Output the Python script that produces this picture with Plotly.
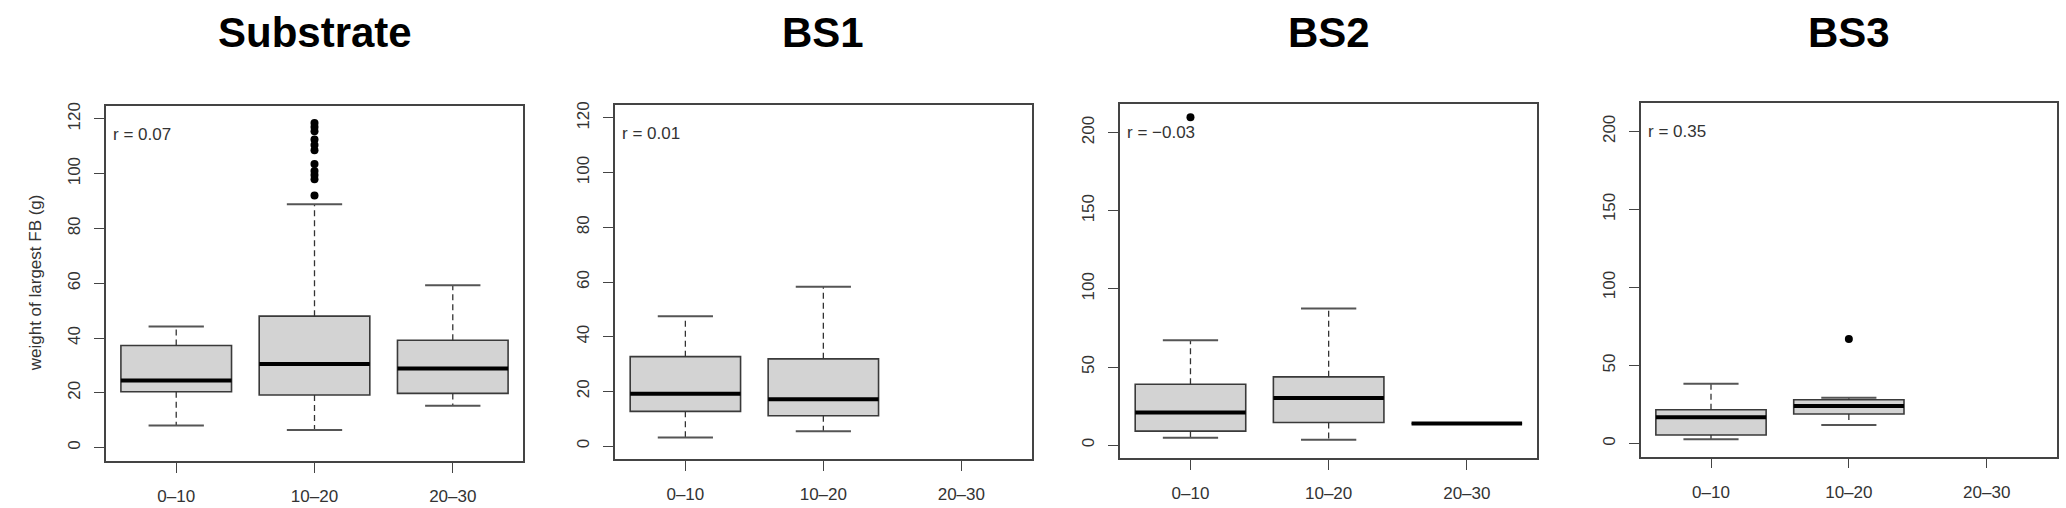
import plotly.graph_objects as go

# ---------------- data ----------------
categories = ["0–10", "10–20", "20–30"]
panel_titles = ["Substrate", "BS1", "BS2", "BS3"]
r_labels = ["r = 0.07", "r = 0.01", "r = −0.03", "r = 0.35"]

# Substrate
sub_lower = [8.1, 6.4, 15.3]
sub_q1 = [20.4, 19.2, 19.8]
sub_median = [24.5, 30.5, 28.9]
sub_q3 = [37.3, 48.0, 39.2]
sub_upper = [44.2, 88.8, 59.3]
sub_outliers = [[], [92.0, 98.0, 99.5, 101.0, 103.5, 108.5, 110.5, 112.5, 115.5, 117.0, 118.5], []]

# BS1
bs1_lower = [3.1, 5.4]
bs1_q1 = [12.7, 11.1]
bs1_median = [19.1, 17.1]
bs1_q3 = [32.7, 31.9]
bs1_upper = [47.5, 58.3]
bs1_outliers = [[], []]

# BS2
bs2_lower = [4.7, 3.4, 13.9]
bs2_q1 = [9.0, 14.5, 13.9]
bs2_median = [20.9, 30.1, 13.9]
bs2_q3 = [39.0, 43.7, 13.9]
bs2_upper = [67.2, 87.4, 13.9]
bs2_outliers = [[209.8], [], []]

# BS3
bs3_lower = [2.8, 11.9]
bs3_q1 = [5.5, 19.0]
bs3_median = [16.8, 24.1]
bs3_q3 = [21.7, 28.1]
bs3_upper = [38.4, 29.4]
bs3_outliers = [[], [67.0]]

y_limits = [(0, 120), (0, 120), (0, 210), (0, 210)]
y_ticks = [list(range(0, 121, 20)), list(range(0, 121, 20)),
           list(range(0, 201, 50)), list(range(0, 201, 50))]
y_title = "weight of largest FB (g)"

panels = [
    (sub_lower, sub_q1, sub_median, sub_q3, sub_upper, sub_outliers),
    (bs1_lower, bs1_q1, bs1_median, bs1_q3, bs1_upper, bs1_outliers),
    (bs2_lower, bs2_q1, bs2_median, bs2_q3, bs2_upper, bs2_outliers),
    (bs3_lower, bs3_q1, bs3_median, bs3_q3, bs3_upper, bs3_outliers),
]

# ---------------- layout geometry (pixels) ----------------
W, H = 2066, 508
# left, right, top, bottom of each plot box (pixels)
boxes_px = [
    (105.7, 523.3, 105.7, 460.8),
    (615.0, 1031.7, 104.8, 459.2),
    (1120.0, 1537.3, 103.8, 458.3),
    (1640.7, 2057.0, 102.7, 456.7),
]


def px_x(v):
    return v / W


def px_y(v):
    return 1 - v / H


FONT = "Liberation Sans, Arial, Helvetica, sans-serif"
TXT = "#333333"
LINE = "#444444"
BOX_W = 0.8
CAP_W = 0.4

fig = go.Figure()

for p, (lower, q1, med, q3, upper, outl) in enumerate(panels):
    xa = "x" if p == 0 else f"x{p+1}"
    ya = "y" if p == 0 else f"y{p+1}"
    n = len(med)
    pos = list(range(1, n + 1))

    # dashed whiskers
    wx, wy = [], []
    for i in range(n):
        c = pos[i]
        wx += [c, c, None, c, c, None]
        wy += [q3[i], upper[i], None, q1[i], lower[i], None]
    fig.add_trace(go.Scatter(x=wx, y=wy, mode="lines", xaxis=xa, yaxis=ya,
                             line=dict(color="#333333", width=1.3, dash="6px,4px"),
                             hoverinfo="skip", showlegend=False))
    # whisker caps (staples)
    cx, cy = [], []
    for i in range(n):
        c = pos[i]
        cx += [c - CAP_W / 2, c + CAP_W / 2, None, c - CAP_W / 2, c + CAP_W / 2, None]
        cy += [upper[i], upper[i], None, lower[i], lower[i], None]
    fig.add_trace(go.Scatter(x=cx, y=cy, mode="lines", xaxis=xa, yaxis=ya,
                             line=dict(color="#555555", width=2),
                             hoverinfo="skip", showlegend=False))
    # boxes
    for i in range(n):
        fig.add_trace(go.Box(x=[pos[i]], q1=[q1[i]], median=[med[i]], q3=[q3[i]],
                             lowerfence=[q1[i]], upperfence=[q3[i]],
                             width=BOX_W, whiskerwidth=0, boxpoints=False,
                             fillcolor="#d3d3d3", line=dict(color="#3a3a3a", width=1.6),
                             xaxis=xa, yaxis=ya, showlegend=False, hoverinfo="skip"))
    # thick medians
    mx, my = [], []
    for i in range(n):
        c = pos[i]
        mx += [c - BOX_W / 2, c + BOX_W / 2, None]
        my += [med[i], med[i], None]
    fig.add_trace(go.Scatter(x=mx, y=my, mode="lines", xaxis=xa, yaxis=ya,
                             line=dict(color="black", width=4),
                             hoverinfo="skip", showlegend=False))
    # outliers
    ox, oy = [], []
    for i in range(n):
        for v in outl[i]:
            ox.append(pos[i])
            oy.append(v)
    if ox:
        fig.add_trace(go.Scatter(x=ox, y=oy, mode="markers", xaxis=xa, yaxis=ya,
                                 marker=dict(color="black", size=8),
                                 hoverinfo="skip", showlegend=False))

layout = dict(
    width=W, height=H, margin=dict(l=0, r=0, t=0, b=0, autoexpand=False),
    paper_bgcolor="white", plot_bgcolor="white",
    font=dict(family=FONT, color=TXT, size=17),
    showlegend=False, boxmode="overlay",
)

annotations = []
for p, (l, r, t, b) in enumerate(boxes_px):
    suffix = "" if p == 0 else str(p + 1)
    lo, hi = y_limits[p]
    ext = 0.04 * (hi - lo)
    layout["xaxis" + suffix] = dict(
        domain=[px_x(l), px_x(r)], anchor="y" + suffix, automargin=False,
        range=[0.49, 3.51], tickvals=[1, 2, 3], ticktext=categories,
        showline=True, mirror=True, linecolor=LINE, linewidth=1.5,
        ticks="outside", ticklen=10, tickwidth=1.3, tickcolor=LINE,
        showgrid=False, zeroline=False, fixedrange=True,
        tickfont=dict(size=17, color=TXT, family=FONT), ticklabelstandoff=9,
    )
    layout["yaxis" + suffix] = dict(
        domain=[px_y(b), px_y(t)], anchor="x" + suffix, automargin=False,
        range=[lo - ext, hi + ext], tickvals=y_ticks[p],
        showline=True, mirror=True, linecolor=LINE, linewidth=1.5,
        ticks="outside", ticklen=10, tickwidth=1.3, tickcolor=LINE,
        showgrid=False, zeroline=False, fixedrange=True, tickangle=-90,
        tickfont=dict(size=17, color=TXT, family=FONT), ticklabelstandoff=7,
    )
    annotations.append(dict(
        text=f"<b>{panel_titles[p]}</b>", xref="paper", yref="paper",
        x=px_x((l + r) / 2), y=px_y(32), xanchor="center", yanchor="middle",
        showarrow=False, font=dict(family=FONT, size=42, color="black")))
    annotations.append(dict(
        text=r_labels[p], xref="paper", yref="paper",
        x=px_x(l + 5), y=px_y(t + 29), xanchor="left", yanchor="middle",
        showarrow=False, font=dict(family=FONT, size=17, color=TXT)))

l, r, t, b = boxes_px[0]
annotations.append(dict(
    text=y_title, xref="paper", yref="paper", x=px_x(35), y=px_y((t + b) / 2),
    xanchor="center", yanchor="middle", textangle=-90, showarrow=False,
    font=dict(family=FONT, size=17, color=TXT)))

layout["annotations"] = annotations
fig.update_layout(**layout)

# remove the page's default body margin so the figure fills the window exactly
fig.write_html(
    "out.html",
    config={"displayModeBar": False},
    post_script="document.body.style.margin='0';document.body.style.overflow='hidden';",
)
